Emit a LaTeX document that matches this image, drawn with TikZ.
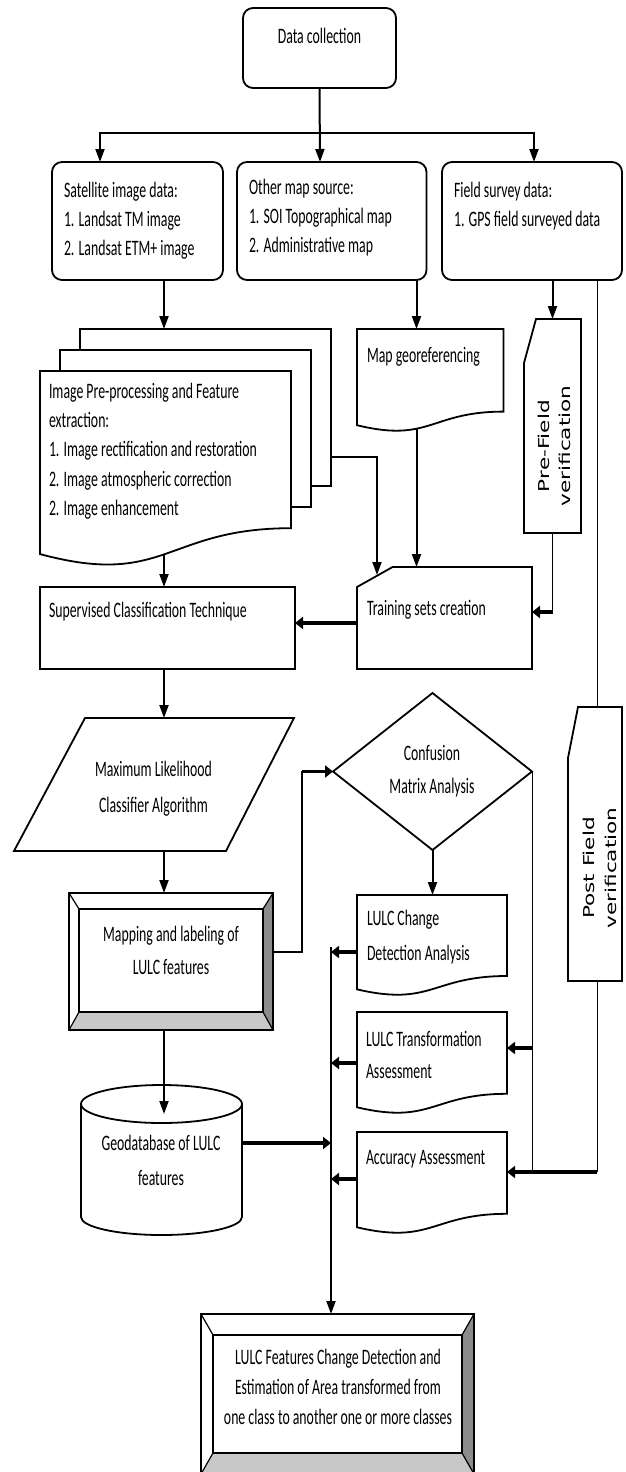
\documentclass[tikz,border=0pt]{standalone}
\usepackage{fontspec}
\setmainfont{Carlito}
\newfontfamily\rotfont{DejaVu Sans}
\usepackage{graphicx}
\usetikzlibrary{calc,arrows.meta}
\definecolor{bevR}{HTML}{8C8C8C}
\definecolor{bevB}{HTML}{C8C8C8}
\newcommand{\txl}[2][18.4]{\scalebox{1}[1.6]{\fontsize{13.8}{#1}\selectfont\begin{tabular}[t]{@{}l@{}}#2\end{tabular}}}
\newcommand{\txc}[2][18.4]{\scalebox{1}[1.6]{\fontsize{13.8}{#1}\selectfont\begin{tabular}[t]{@{}c@{}}#2\end{tabular}}}
\newcommand{\rtx}[2]{\scalebox{1.44}[1]{#1}\\\scalebox{1.44}[1]{#2}}
\newcommand{\drawdoc}[1]{\draw[shp] (#1.north west) -- (#1.north east) -- ($(#1.north east)!0.802!(#1.south east)$) .. controls ($(#1.north)!0.802!(#1.south)$) and ($(#1.north)!1.1075!(#1.south)$) .. ($(#1.north west)!0.934!(#1.south west)$) -- cycle;}
\newcommand{\bevelbox}[5]{%
  \coordinate (#1a) at ($(#1.north west)+(#2,#3)$);
  \coordinate (#1b) at ($(#1.north east)+(-#4,#3)$);
  \coordinate (#1c) at ($(#1.south east)+(-#4,-#5)$);
  \coordinate (#1d) at ($(#1.south west)+(#2,-#5)$);
  \fill[bevR] (#1.north east) -- (#1b) -- (#1c) -- (#1.south east) -- cycle;
  \fill[bevB] (#1.south west) -- (#1d) -- (#1c) -- (#1.south east) -- cycle;
  \draw[shp] (#1.north west) rectangle (#1.south east);
  \draw[shp] (#1a) rectangle (#1c);
  \draw[shp, line width=1.2pt] (#1.north west) -- (#1a) (#1.north east) -- (#1b) (#1.south east) -- (#1c) (#1.south west) -- (#1d);
}
\begin{document}
\begin{tikzpicture}[x=1pt,y=-1pt,
  shp/.style={draw=black, line width=1.8pt},
  box/.style={rectangle, inner sep=0pt, outer sep=0pt, draw=black, line width=1.8pt},
  hold/.style={rectangle, inner sep=0pt, outer sep=0pt, draw=none},
  tx/.style={inner sep=0pt, outer sep=0pt, text=black},
  ln/.style={line width=2pt, line cap=rect},
  arr/.style={line width=2pt, -{Triangle[length=13pt,width=9pt]}},
  tarr/.style={line width=3.6pt, -{Triangle[length=8pt,width=12pt]}},
  thinln/.style={line width=1pt},
]
\useasboundingbox (0,0) rectangle (625,1472);
\fill[white] (0,0) rectangle (625,1472);
\clip (0,0) rectangle (625,1472);

% ---------- top boxes
\node[box, rounded corners=10pt, minimum width=153pt, minimum height=80pt] (dc) at (319.5,48) {};
\node[tx, anchor=base] (dcT) at (319.5,44) {\txc{Data collection}};

\node[box, rounded corners=10pt, minimum width=171pt, minimum height=118pt] (sat) at (137.5,221) {};
\node[tx, anchor=base west] (satT) at (64,197) {\txl[18.2]{Satellite image data:\\1. Landsat TM image\\2. Landsat ETM+ image}};

\node[box, rounded corners=10pt, minimum width=189.5pt, minimum height=118pt] (oms) at (331.75,221) {};
\node[tx, anchor=base west] (omsT) at (249,194) {\txl[18.4]{Other map source:\\1. SOI Topographical map\\2. Administrative map}};

\node[box, rounded corners=10pt, minimum width=180pt, minimum height=118pt] (fsd) at (532,221) {};
\node[tx, anchor=base west] (fsdT) at (454,197) {\txl[18.7]{Field survey data:\\1. GPS field surveyed data}};

% ---------- multidocument
\node[hold, minimum width=251pt, minimum height=196pt] (md1) at (205.5,427) {};
\node[hold, minimum width=251pt, minimum height=196pt] (md2) at (185.5,448) {};
\node[hold, minimum width=251pt, minimum height=196pt] (md) at (165.5,469) {};
\draw[shp] (md1.north west |- md2.north) -- (md1.north west) -- (md1.north east) -- ($(md1.north east)!0.802!(md1.south east)$) -- ++(-20,0);
\draw[shp] (md2.north west |- md.north) -- (md2.north west) -- (md2.north east) -- ($(md2.north east)!0.802!(md2.south east)$) -- ++(-20,0);
\drawdoc{md}
\node[tx, anchor=base west] (mdT) at (49,398) {\txl[18.4]{Image Pre-processing and Feature\\extraction:\\1. Image rectification and restoration\\2. Image atmospheric correction\\2. Image enhancement}};

% ---------- map georeferencing
\node[hold, minimum width=146.5pt, minimum height=103pt] (mg) at (430.25,380.5) {};
\drawdoc{mg}
\node[tx, anchor=base west] (mgT) at (367,362) {\txl{Map georeferencing}};

% ---------- pre-field verification
\node[hold, minimum width=57pt, minimum height=214pt] (pre) at (552.5,426) {};
\draw[shp] ($(pre.north west)+(12,0)$) -- (pre.north east) -- (pre.south east) -- (pre.south west) -- ($(pre.north west)+(0,44)$) -- cycle;
\node[tx, rotate=90, font=\rotfont\fontsize{15}{21}\selectfont, align=center] (preT) at (554.5,446) {\rtx{Pre-Field}{verification}};

% ---------- training sets
\node[hold, minimum width=175pt, minimum height=102pt] (ts) at (444.5,618) {};
\draw[shp] ($(ts.north west)+(35.6,0)$) -- (ts.north east) -- (ts.south east) -- (ts.south west) -- ($(ts.north west)+(0,20)$) -- cycle;
\node[tx, anchor=base west] (tsT) at (367,615) {\txl{Training sets creation}};

% ---------- supervised classification
\node[box, minimum width=255pt, minimum height=82pt] (sct) at (167.5,628) {};
\node[tx, anchor=base west] (sctT) at (49,617) {\txl{Supervised Classification Technique}};

% ---------- maximum likelihood (parallelogram)
\node[hold, minimum width=280pt, minimum height=133pt] (mla) at (154,784.5) {};
\draw[shp] ($(mla.north west)+(71,0)$) -- (mla.north east) -- ($(mla.south east)+(-68,0)$) -- (mla.south west) -- cycle;
\node[tx, anchor=base] (mlaT) at (153.5,776) {\txc[22.5]{Maximum Likelihood\\Classifier Algorithm}};

% ---------- mapping and labeling (bevel)
\node[hold, minimum width=204pt, minimum height=137pt] (map) at (171,961.5) {};
\bevelbox{map}{10}{16}{10}{18}
\node[tx, anchor=base] (mapT) at (171,941) {\txc[21.2]{Mapping and labeling of\\LULC features}};

% ---------- confusion matrix (diamond)
\node[hold, minimum width=199pt, minimum height=157pt] (cma) at (432.5,771.5) {};
\draw[shp] (cma.west) -- (cma.north) -- (cma.east) -- (cma.south) -- cycle;
\node[tx, anchor=base] (cmaT) at (432,760) {\txc[21.2]{Confusion\\Matrix Analysis}};

% ---------- right documents
\node[hold, minimum width=150pt, minimum height=101pt] (lcd) at (432,945.5) {};
\drawdoc{lcd}
\node[tx, anchor=base west] (lcdT) at (367,925) {\txl[21.9]{LULC Change\\Detection Analysis}};

\node[hold, minimum width=150pt, minimum height=102pt] (lta) at (432,1063) {};
\drawdoc{lta}
\node[tx, anchor=base west] (ltaT) at (366,1046) {\txl[20.6]{LULC Transformation\\Assessment}};

\node[hold, minimum width=150pt, minimum height=102pt] (acc) at (432,1183) {};
\drawdoc{acc}
\node[tx, anchor=base west] (accT) at (366,1164) {\txl{Accuracy Assessment}};

% ---------- post field verification
\node[hold, minimum width=54pt, minimum height=274pt] (post) at (595,844) {};
\draw[shp] ($(post.north west)+(10,0)$) -- (post.north east) -- (post.south east) -- (post.south west) -- ($(post.north west)+(0,51)$) -- cycle;
\node[tx, rotate=90, font=\rotfont\fontsize{15}{22}\selectfont, align=center] (postT) at (600,868) {\rtx{Post Field}{verification}};

% ---------- geodatabase (cylinder)
\node[hold, minimum width=161pt, minimum height=150pt] (geo) at (161.5,1160) {};
\draw[shp] ($(geo.north west)+(0,19)$) -- ($(geo.south west)+(0,-18)$) arc[start angle=180,end angle=360,x radius=80.5pt,y radius=18pt] -- ($(geo.north east)+(0,19)$);
\draw[shp] ($(geo.north)+(0,19)$) ellipse [x radius=80.5pt, y radius=19pt];
\node[tx, anchor=base] (geoT) at (161,1150) {\txc[21.9]{Geodatabase of LULC\\features}};

% ---------- final box (bevel)
\node[hold, minimum width=273pt, minimum height=160pt] (fin) at (337.5,1394) {};
\bevelbox{fin}{12}{21}{12}{21}
\node[tx, anchor=base] (finT) at (338,1364) {\txc[18.8]{LULC Features Change Detection and\\Estimation of Area transformed from\\one class to another one or more classes}};

% ---------- connectors
\coordinate (hc) at (320,133);
\coordinate (hl) at (100,133);
\coordinate (hr) at (534,133);
\draw[arr] (dc.south) -- (hc |- oms.north);
\draw[arr] (hc) -| (hl |- sat.north);
\draw[arr] (hc) -| (hr |- fsd.north);

\coordinate (colA) at (164,0);
\coordinate (colB) at (416.5,0);
\coordinate (colC) at (597,0);
\draw[arr] (colA |- sat.south) -- (colA |- md1.north);
\draw[arr] (colB |- oms.south) -- (colB |- mg.north);
\draw[arr] (pre.north |- fsd.south) -- (pre.north);
\draw[thinln] (colC |- fsd.south) -- (colC |- post.north);

\coordinate (mdK) at (377,457);
\coordinate (tsS) at (377,575);
\draw[arr] (md1.east |- mdK) -- (mdK) -- (tsS);
\coordinate (mgB) at (416.5,428);
\draw[arr] (mgB) -- (colB |- ts.north);
\coordinate (preJ) at (552.5,612);
\draw[thinln] (pre.south) -- (preJ);
\draw[tarr] (preJ) -- (preJ -| ts.east);

\coordinate (mdB) at (164,554.5);
\draw[arr] (mdB) -- (colA |- sct.north);
\coordinate (y623) at (0,623);
\draw[tarr] (ts.west |- y623) -- (sct.east |- y623);
\draw[arr] (colA |- sct.south) -- (colA |- mla.north);
\draw[arr] (colA |- mla.south) -- (colA |- map.north);
\coordinate (geoTop) at (164,1114);
\draw[arr] (colA |- map.south) -- (geoTop);

\coordinate (mapJ) at (302,952);
\coordinate (mapK) at (302,771.5);
\draw[ln] (map.east |- mapJ) -- (mapJ) -- (mapK);
\draw[tarr] (mapK) -- (cma.west);
\draw[arr] (cma.south) -- (cma.south |- lcd.north);

\coordinate (c4) at (597,1172);
\draw[thinln] (cma.east) -- (cma.east |- c4);
\draw[thinln] (colC |- post.south) -- (c4);
\draw[tarr] (c4) -- (c4 -| acc.east);
\coordinate (y1048) at (0,1048);
\draw[tarr] (cma.east |- y1048) -- (lta.east |- y1048);

\coordinate (bus) at (331,947);
\draw[arr] (bus) -- (bus |- fin.north);
\draw[tarr] (lcd.west |- mapJ) -- (bus |- mapJ);
\coordinate (y1063) at (0,1063);
\draw[tarr] (lta.west |- y1063) -- (bus |- y1063);
\coordinate (y1179) at (0,1179);
\draw[tarr] (acc.west |- y1179) -- (bus |- y1179);
\coordinate (y1143) at (0,1143);
\draw[tarr] (geo.east |- y1143) -- (bus |- y1143);
\end{tikzpicture}
\end{document}
